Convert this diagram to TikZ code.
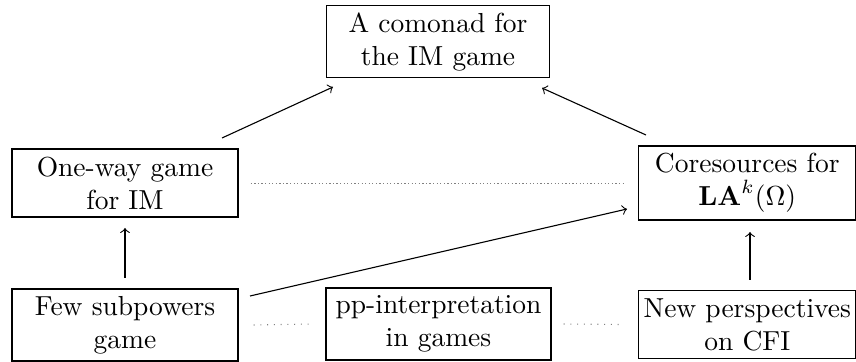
\documentclass[tikz,border=0pt]{standalone}
\usepackage{amsmath}
\begin{document}
\begin{tikzpicture}[x=0.3636pt,y=-0.3636pt,
  boxnode/.style={draw,align=center,inner sep=0pt,font=\normalsize},
  arr/.style={->,line width=0.4pt},
  dotline/.style={gray,line width=0.4pt,dash pattern=on 0.35pt off 2.1pt},
  densedot/.style={gray,line width=0.35pt,dash pattern=on 0.45pt off 0.85pt}]
\useasboundingbox (0,0) rectangle (856,362);
\node[boxnode,minimum width=81.4pt,minimum height=26.5pt] (top) at (438,41.5) {A comonad for\\the IM game};
\node[boxnode,minimum width=82.2pt,minimum height=24.7pt] (oneway) at (125,183) {One-way game\\for IM};
\node[boxnode,minimum width=79.0pt,minimum height=26.9pt] (cores) at (747.3,183) {Coresources for\\$\mathbf{LA}^k(\Omega)$};
\node[boxnode,minimum width=82.2pt,minimum height=26.2pt] (few) at (125,325) {Few subpowers\\game};
\node[boxnode,minimum width=81.8pt,minimum height=26.2pt] (pp) at (438.5,324) {pp-interpretation\\in games};
\node[boxnode,minimum width=79.0pt,minimum height=24.7pt] (cfi) at (747.3,324.5) {New perspectives\\on CFI};
% connectors
\coordinate (a1s) at (222,138); \coordinate (a1e) at (333,87);
\coordinate (a2s) at (646,135); \coordinate (a2e) at (542,88);
\coordinate (a3s) at (250,296); \coordinate (a3e) at (627,209);
\coordinate (a4s) at (125,278); \coordinate (a4e) at (125,228);
\coordinate (a5s) at (750,280); \coordinate (a5e) at (750,232);
\draw[arr] (a1s) -- (a1e);
\draw[arr] (a2s) -- (a2e);
\draw[arr] (a3s) -- (a3e);
\draw[arr] (a4s) -- (a4e);
\draw[arr] (a5s) -- (a5e);
\draw[densedot] ([xshift=4.4pt]oneway.east) -- ([xshift=-4.4pt]cores.west);
\draw[dotline] ([xshift=5.5pt]few.east) -- ([xshift=-4.7pt]pp.west);
\draw[dotline] ([xshift=4.4pt]pp.east) -- ([xshift=-5.6pt]cfi.west);
\end{tikzpicture}
\end{document}
